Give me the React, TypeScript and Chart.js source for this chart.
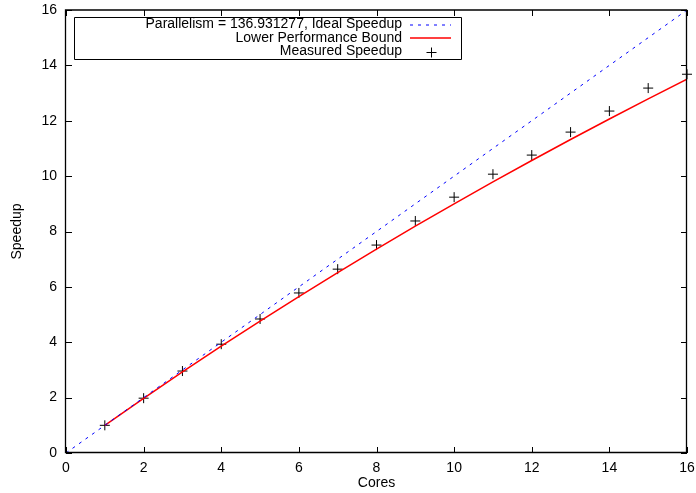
import React, { useEffect, useRef } from "react";
import { Chart, registerables } from "chart.js";

Chart.register(...registerables);

const cores = [1, 2, 3, 4, 5, 6, 7, 8, 9, 10, 11, 12, 13, 14, 15, 16];
const measuredSpeedup = [1.0, 1.98, 2.96, 3.93, 4.84, 5.78, 6.64, 7.51, 8.38, 9.24, 10.07, 10.76, 11.59, 12.35, 13.18, 13.68];
const lowerBound = [1.0, 1.975, 2.928, 3.857, 4.765, 5.651, 6.517, 7.364, 8.191, 9.0, 9.791, 10.565, 11.323, 12.064, 12.79, 13.5];
const idealX = [0, 16];
const idealY = [0, 16];
const axisTicks = [0, 2, 4, 6, 8, 10, 12, 14, 16];
const legendLabels = ["Parallelism = 136.931277, Ideal Speedup", "Lower Performance Bound", "Measured Speedup"];

const FONT = "'Liberation Sans', Arial, Helvetica, sans-serif";
const FS = 14;

const framePlugin = {
  id: "gnuplotFrame",
  afterDatasetsDraw(chart: any) {
    const { ctx, chartArea } = chart;
    const { left, right, top, bottom } = chartArea;
    const xs = chart.scales.x;
    const ys = chart.scales.y;
    ctx.save();
    ctx.strokeStyle = "#000";
    ctx.lineWidth = 1.3;
    ctx.beginPath();
    ctx.rect(left - 0.5, top, right - left, bottom - top - 0.5);
    ctx.stroke();
    ctx.lineWidth = 1;
    const tl = 6;
    ctx.beginPath();
    axisTicks.forEach((v) => {
      const px = Math.round(xs.getPixelForValue(v)) + 0.5;
      ctx.moveTo(px, bottom);
      ctx.lineTo(px, bottom - tl);
      ctx.moveTo(px, top);
      ctx.lineTo(px, top + tl);
      const py = Math.round(ys.getPixelForValue(v)) + 0.5;
      ctx.moveTo(left, py);
      ctx.lineTo(left + tl, py);
      ctx.moveTo(right, py);
      ctx.lineTo(right - tl, py);
    });
    ctx.stroke();

    // legend (gnuplot style)
    const bx = left + 8;
    const by = top + 7;
    const bw = 387;
    const bh = 42;
    ctx.beginPath();
    ctx.rect(bx + 0.5, by + 0.5, bw, bh);
    ctx.stroke();
    ctx.font = `${FS}px ${FONT}`;
    ctx.fillStyle = "#000";
    ctx.textAlign = "right";
    ctx.textBaseline = "middle";
    const textRight = bx + 328;
    const rowY = [by + 7.5, by + 21, by + 34.5];
    legendLabels.forEach((t, i) => ctx.fillText(t, textRight, rowY[i]));
    const sx0 = bx + 336;
    const sx1 = bx + 377;
    ctx.strokeStyle = "#0000ff";
    ctx.setLineDash([3, 5]);
    ctx.beginPath();
    ctx.moveTo(sx0, rowY[0] + 0.5);
    ctx.lineTo(sx1, rowY[0] + 0.5);
    ctx.stroke();
    ctx.setLineDash([]);
    ctx.strokeStyle = "#ff0000";
    ctx.lineWidth = 1.5;
    ctx.beginPath();
    ctx.moveTo(sx0, rowY[1]);
    ctx.lineTo(sx1, rowY[1]);
    ctx.stroke();
    ctx.strokeStyle = "#000";
    ctx.lineWidth = 1;
    const cx = Math.round((sx0 + sx1) / 2) + 0.5;
    const cy = Math.round(rowY[2]) + 0.5;
    ctx.beginPath();
    ctx.moveTo(cx - 5, cy);
    ctx.lineTo(cx + 5, cy);
    ctx.moveTo(cx, cy - 5);
    ctx.lineTo(cx, cy + 5);
    ctx.stroke();
    ctx.restore();
  },
};

export default function App() {
  const ref = useRef<HTMLCanvasElement | null>(null);
  useEffect(() => {
    if (!ref.current) return;
    const chart = new Chart(ref.current, {
      type: "scatter",
      data: {
        datasets: [
          {
            label: legendLabels[0],
            data: idealX.map((x, i) => ({ x, y: idealY[i] })),
            showLine: true,
            borderColor: "#0000ff",
            borderWidth: 1,
            borderDash: [3, 5],
            pointRadius: 0,
            fill: false,
          },
          {
            label: legendLabels[1],
            data: cores.map((x, i) => ({ x, y: lowerBound[i] })),
            showLine: true,
            borderColor: "#ff0000",
            borderWidth: 1.5,
            pointRadius: 0,
            fill: false,
          },
          {
            label: legendLabels[2],
            data: cores.map((x, i) => ({ x, y: measuredSpeedup[i] })),
            showLine: false,
            pointStyle: "cross",
            pointRadius: 5,
            borderColor: "#000",
            backgroundColor: "#000",
            pointBorderWidth: 1,
            clip: false,
          },
        ],
      },
      options: {
        animation: false,
        responsive: false,
        maintainAspectRatio: false,
        layout: { padding: { top: 10, right: 9, left: 0, bottom: 0 } },
        plugins: { legend: { display: false }, tooltip: { enabled: false } },
        scales: {
          x: {
            type: "linear",
            min: 0,
            max: 16,
            afterBuildTicks: (s: any) => {
              s.ticks = axisTicks.map((v) => ({ value: v }));
            },
            afterFit: (s: any) => {
              s.height = 40;
              s.paddingLeft = 0;
              s.paddingRight = 0;
            },
            grid: { display: false, drawTicks: false },
            border: { display: false },
            ticks: { color: "#000", padding: 7, font: { family: FONT, size: FS }, maxRotation: 0 },
            title: {
              display: true,
              text: "Cores",
              color: "#000",
              font: { family: FONT, size: FS },
              padding: { top: 0, bottom: 1 },
            },
          },
          y: {
            type: "linear",
            min: 0,
            max: 16,
            afterBuildTicks: (s: any) => {
              s.ticks = axisTicks.map((v) => ({ value: v }));
            },
            afterFit: (s: any) => {
              s.width = 66;
              s.paddingTop = 0;
              s.paddingBottom = 0;
            },
            grid: { display: false, drawTicks: false },
            border: { display: false },
            ticks: { color: "#000", padding: 9, font: { family: FONT, size: FS } },
            title: {
              display: true,
              text: "Speedup",
              color: "#000",
              font: { family: FONT, size: FS },
              padding: { top: 9, bottom: 0 },
            },
          },
        },
      },
      plugins: [framePlugin],
    });
    return () => chart.destroy();
  }, []);
  return (
    <div style={{ position: "fixed", left: 0, top: 0, width: 696, height: 493, background: "#fff" }}>
      <canvas ref={ref} width={696} height={493} style={{ width: 696, height: 493 }} />
    </div>
  );
}
